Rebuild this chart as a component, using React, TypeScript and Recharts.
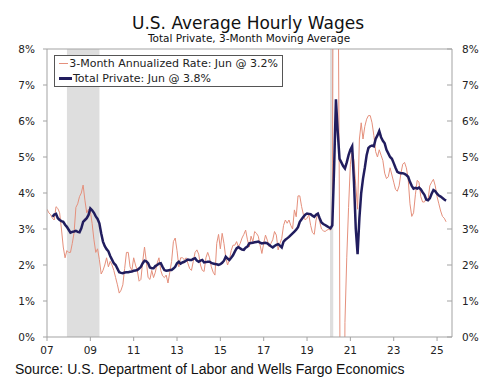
import { Legend, Line, LineChart, ReferenceArea, ReferenceLine, XAxis, YAxis } from 'recharts';

const START_YEAR = 2007;

// 3-month annualized rate, monthly Jan 2007 - Jun 2025 (one row per year)
const annualizedRate: number[][] = [
  [3.55, 3.45, 3.4, 3.3, 3.25, 3.62, 3.57, 3.45, 3.0, 2.5, 2.2, 2.4],
  [2.35, 2.35, 2.6, 2.9, 3.6, 3.7, 3.9, 4.0, 4.22, 3.8, 3.45, 3.55],
  [3.5, 3.15, 2.7, 2.35, 2.45, 2.15, 1.75, 1.85, 2.0, 2.2, 1.95, 2.1],
  [2.0, 1.85, 1.65, 1.45, 1.22, 1.3, 1.45, 1.9, 2.35, 2.35, 1.95, 1.85],
  [2.2, 2.0, 1.85, 1.55, 1.6, 2.1, 2.5, 2.1, 1.65, 1.6, 1.85, 1.65],
  [1.8, 2.05, 2.2, 1.85, 1.7, 1.65, 1.72, 1.5, 1.8, 2.1, 2.65, 2.75],
  [2.4, 1.95, 2.2, 2.2, 2.15, 2.2, 2.05, 1.9, 1.85, 2.1, 2.35, 2.42],
  [2.3, 2.0, 1.85, 1.82, 2.2, 2.35, 2.2, 1.95, 1.8, 1.72, 2.6, 2.85],
  [2.45, 2.88, 2.6, 2.2, 2.0, 2.15, 2.4, 2.55, 2.55, 2.65, 2.5, 2.6],
  [2.75, 2.85, 2.97, 2.7, 2.5, 2.8, 2.65, 2.93, 2.88, 2.8, 2.55, 2.32],
  [2.6, 2.83, 2.69, 2.51, 2.6, 2.7, 2.93, 2.83, 2.42, 2.6, 2.74, 3.1],
  [3.25, 3.16, 3.25, 3.1, 3.0, 3.53, 3.34, 3.92, 3.92, 3.62, 3.4, 3.25],
  [3.3, 3.39, 3.1, 2.9, 2.85, 3.25, 3.43, 3.2, 3.0, 2.95, 2.93, 2.97],
  [2.99, 2.97, 3.2, 20, 25, 12, 3, -12, -8, 0.4, 2.2, 3.6],
  [4.8, 5.2, 4.9, 4.2, 3.55, 5.5, 5.95, 5.5, 5.85, 6.05, 6.15, 6.15],
  [5.95, 5.6, 5.15, 5.0, 5.2, 5.05, 4.9, 4.55, 4.4, 4.45, 4.7, 4.5],
  [4.3, 4.1, 4.05, 4.2, 4.55, 4.8, 4.85, 4.7, 4.4, 3.7, 3.35, 3.45],
  [3.95, 4.35, 4.3, 3.9, 3.75, 3.75, 3.85, 3.8, 4.2, 4.3, 4.38, 4.2],
  [3.9, 3.7, 3.5, 3.35, 3.3, 3.2],
];

// Total private, 3-month moving average (starts Apr 2007)
const movingAverage: (number | null)[][] = [
  [null, null, null, 3.34, 3.4, 3.42, 3.3, 3.25, 3.22, 3.2, 3.12, 3.06],
  [2.98, 2.9, 2.92, 2.93, 2.95, 2.92, 2.91, 3.02, 3.2, 3.25, 3.3, 3.39],
  [3.57, 3.52, 3.45, 3.35, 3.28, 3.16, 2.88, 2.65, 2.52, 2.44, 2.38, 2.25],
  [2.15, 2.05, 2.0, 1.9, 1.8, 1.78, 1.77, 1.79, 1.8, 1.8, 1.81, 1.82],
  [1.84, 1.85, 1.86, 1.9, 1.95, 2.05, 2.12, 2.1, 2.05, 1.93, 1.91, 1.91],
  [1.97, 2.0, 2.04, 2.05, 1.95, 1.86, 1.84, 1.85, 1.86, 1.86, 1.9, 1.95],
  [2.05, 2.09, 2.04, 2.07, 2.09, 2.12, 2.15, 2.14, 2.14, 2.17, 2.19, 2.12],
  [2.09, 2.12, 2.14, 2.07, 2.08, 2.09, 2.09, 2.06, 2.04, 2.03, 2.02, 2.0],
  [2.02, 2.06, 2.12, 2.23, 2.18, 2.14, 2.2, 2.27, 2.37, 2.46, 2.5, 2.46],
  [2.43, 2.42, 2.48, 2.51, 2.6, 2.61, 2.62, 2.63, 2.64, 2.65, 2.62, 2.6],
  [2.61, 2.62, 2.6, 2.56, 2.52, 2.49, 2.53, 2.56, 2.58, 2.54, 2.49, 2.65],
  [2.7, 2.74, 2.78, 2.83, 2.88, 2.93, 2.98, 3.05, 3.2, 3.27, 3.34, 3.4],
  [3.43, 3.42, 3.41, 3.37, 3.34, 3.4, 3.43, 3.3, 3.18, 3.14, 3.11, 3.08],
  [3.05, 3.02, 3.1, 4.7, 6.6, 5.7, 4.95, 4.85, 4.75, 4.68, 4.85, 5.05],
  [5.2, 5.3, 4.3, 3.0, 2.3, 3.3, 4.0, 4.4, 4.7, 5.05, 5.25, 5.3],
  [5.32, 5.3, 5.5, 5.6, 5.72, 5.55, 5.45, 5.38, 5.2, 5.1, 5.0, 4.95],
  [4.83, 4.7, 4.59, 4.56, 4.55, 4.55, 4.53, 4.5, 4.45, 4.31, 4.2, 4.12],
  [4.14, 4.12, 4.15, 4.1, 4.02, 3.95, 3.82, 3.8, 3.85, 3.98, 4.08, 4.05],
  [3.98, 3.93, 3.9, 3.86, 3.82, 3.79],
];

const xTickYears = [2007, 2009, 2011, 2013, 2015, 2017, 2019, 2021, 2023, 2025];
const yTicks = [0, 1, 2, 3, 4, 5, 6, 7, 8];
const recessions = [
  { from: 2007.92, to: 2009.42 },
  { from: 2020.06, to: 2020.21 },
];

const chartData = annualizedRate.flatMap((row, yi) =>
  row.map((rate, mi) => ({
    t: START_YEAR + yi + mi / 12,
    rate,
    avg: movingAverage[yi][mi] ?? null,
  })),
);

const lastRate = annualizedRate[annualizedRate.length - 1].slice(-1)[0] as number;
const lastAvgRow = movingAverage[movingAverage.length - 1];
const lastAvg = lastAvgRow[lastAvgRow.length - 1] as number;

const FONT = '"DejaVu Sans", Verdana, sans-serif';
const AXIS = '#a3a3a3';
const RED = '#e5907c';
const NAVY = '#211d5e';

const tickStyle = { fontSize: 10.5, fill: '#222', fontFamily: FONT };

const renderLegend = (props: any) => {
  const items = props.payload ?? [];
  return (
    <div
      style={{
        border: '1px solid #555',
        background: '#fff',
        padding: '0 4px',
        width: 229,
        boxSizing: 'border-box',
        fontFamily: FONT,
        fontSize: 11,
        lineHeight: '15px',
        color: '#222',
        textAlign: 'left',
      }}
    >
      {items.map((item: any) => (
        <div key={item.value} style={{ display: 'flex', alignItems: 'center', whiteSpace: 'nowrap' }}>
          <span
            style={{
              display: 'inline-block',
              width: 13,
              height: item.dataKey === 'avg' ? 3 : 1,
              background: item.color,
              marginRight: 1,
            }}
          />
          <span>{item.value}</span>
        </div>
      ))}
    </div>
  );
};

export default function App() {
  return (
    <div style={{ position: 'relative', width: 498, height: 387, background: '#fff' }}>
      <style>{'body{margin:0}'}</style>
      <LineChart width={498} height={387} data={chartData} margin={{ top: 49, right: 6, bottom: 20, left: 7 }}>
        {recessions.map((r) => (
          <ReferenceArea
            key={r.from}
            yAxisId="left"
            x1={r.from}
            x2={r.to}
            y1={0}
            y2={8}
            fill="#dedede"
            fillOpacity={1}
            stroke="none"
          />
        ))}
        <XAxis
          dataKey="t"
          type="number"
          domain={[2007, 2025.69]}
          ticks={xTickYears}
          tickFormatter={(v: number) => String(v % 100).padStart(2, '0')}
          stroke={AXIS}
          tick={tickStyle}
          tickSize={4}
          tickMargin={6}
          height={30}
          allowDataOverflow
        />
        <YAxis
          yAxisId="left"
          domain={[0, 8]}
          ticks={yTicks}
          allowDataOverflow
          tickFormatter={(v: number) => `${v}%`}
          stroke={AXIS}
          tick={tickStyle}
          tickSize={4}
          tickMargin={8}
          width={40}
        />
        <YAxis
          yAxisId="right"
          orientation="right"
          domain={[0, 8]}
          ticks={yTicks}
          allowDataOverflow
          tickFormatter={(v: number) => `${v}%`}
          stroke={AXIS}
          tick={{ ...tickStyle, textAnchor: 'start' }}
          tickSize={-5}
          tickMargin={15}
          width={40}
        />
        <ReferenceLine yAxisId="left" y={8} stroke={AXIS} />
        <Legend layout="vertical" align="center" verticalAlign="middle" content={renderLegend} wrapperStyle={{ top: 55, left: 54, width: 229 }} />
        <Line
          yAxisId="left"
          type="linear"
          dataKey="rate"
          name={`3-Month Annualized Rate: Jun @ ${lastRate.toFixed(1)}%`}
          stroke={RED}
          strokeWidth={1}
          dot={false}
          isAnimationActive={false}
        />
        <Line
          yAxisId="left"
          type="linear"
          dataKey="avg"
          name={`Total Private: Jun @ ${lastAvg.toFixed(1)}%`}
          stroke={NAVY}
          strokeWidth={2.5}
          dot={false}
          isAnimationActive={false}
        />
      </LineChart>
      <svg width={498} height={387} style={{ position: 'absolute', left: 0, top: 0, pointerEvents: 'none' }}>
        <text x={248} y={28.5} textAnchor="middle" fontFamily={FONT} fontSize={17} fill="#111">
          U.S. Average Hourly Wages
        </text>
        <text x={249} y={42} textAnchor="middle" fontFamily={FONT} fontSize={10.5} fill="#111">
          Total Private, 3-Month Moving Average
        </text>
        <text x={15} y={373.5} fontFamily='"Liberation Sans", Arial, sans-serif' fontSize={14} fill="#111">
          Source: U.S. Department of Labor and Wells Fargo Economics
        </text>
      </svg>
    </div>
  );
}
